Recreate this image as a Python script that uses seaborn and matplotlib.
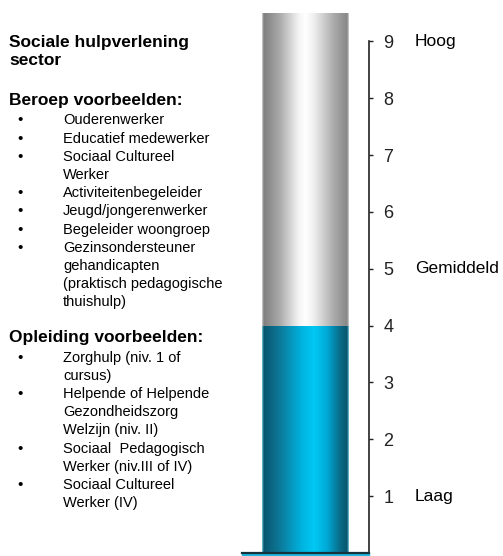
import matplotlib
matplotlib.use("Agg")
import matplotlib.pyplot as plt
from matplotlib.colors import LinearSegmentedColormap
from matplotlib.patches import Rectangle
import matplotlib.transforms as mtransforms
import numpy as np
import pandas as pd
import seaborn as sns

# gegevens
sector = "Sociale hulpverlening\nsector"
score = 4
scale_max = 9.5
levels = [1, 2, 3, 4, 5, 6, 7, 8, 9]
level_names = {9: "Hoog", 5: "Gemiddeld", 1: "Laag"}
beroepen = [
    "Ouderenwerker",
    "Educatief medewerker",
    "Sociaal Cultureel\nWerker",
    "Activiteitenbegeleider",
    "Jeugd/jongerenwerker",
    "Begeleider woongroep",
    "Gezinsondersteuner\ngehandicapten\n(praktisch pedagogische\nthuishulp)",
]
opleidingen = [
    "Zorghulp (niv. 1 of\ncursus)",
    "Helpende of Helpende\nGezondheidszorg\nWelzijn (niv. II)",
    "Sociaal  Pedagogisch\nWerker (niv.III of IV)",
    "Sociaal Cultureel\nWerker (IV)",
]

sns.set_theme(style="white")
plt.rcParams["font.family"] = ["Liberation Sans", "DejaVu Sans"]

W, H = 503, 556
fig = plt.figure(figsize=(W / 100, H / 100), dpi=100)
ax = fig.add_axes([242 / W, 3 / H, 127 / W, (553 - 13) / H])

df = pd.DataFrame({"sector": [sector], "max": [scale_max], "score": [score]})
# achtergrond (grijs) en score (blauw)
sns.barplot(data=df, x="sector", y="max", width=0.68, color="0.8", ax=ax, zorder=1)
sns.barplot(data=df, x="sector", y="score", width=0.68, color="#00b0e0", ax=ax, zorder=2)

grey_stops = [(0, "#cfcfcf"), (0.02, "#7f7f7f"), (0.2, "#a9a9a9"), (0.42, "#f3f3f3"),
              (0.5, "#ffffff"), (0.6, "#eeeeee"), (0.82, "#adadad"), (0.98, "#878787"), (1, "#cfcfcf")]
blue_stops = [(0, "#7cc8dc"), (0.02, "#08566e"), (0.2, "#0d7898"), (0.45, "#00b2de"),
              (0.6, "#00c8f4"), (0.75, "#00a9d6"), (0.9, "#0a6b88"), (0.98, "#07566d"), (1, "#7cc8dc")]


def gradient_fill(patch, stops, z):
    x0, y0 = patch.get_x(), patch.get_y()
    w, h = patch.get_width(), patch.get_height()
    cmap = LinearSegmentedColormap.from_list("g", stops)
    grad = np.linspace(0, 1, 256).reshape(1, -1)
    im = ax.imshow(grad, cmap=cmap, extent=[x0, x0 + w, y0, y0 + h],
                   aspect="auto", zorder=z, interpolation="bilinear")
    im.set_clip_path(patch)
    patch.set_facecolor("none")
    patch.set_edgecolor("none")


gradient_fill(ax.patches[0], grey_stops, 1)
gradient_fill(ax.patches[1], blue_stops, 2)

ax.set_xlim(-0.5, 0.5)
ax.set_ylim(0, scale_max)
ax.set_xlabel("")
ax.set_ylabel("")
ax.set_xticks([])

# as rechts
ax.yaxis.tick_right()
ax.set_yticks(levels)
ax.tick_params(axis="y", right=True, direction="out", length=3, width=1,
               color="#222222", pad=7.5, labelsize=13, labelcolor="#222222")
for side in ["left", "top"]:
    ax.spines[side].set_visible(False)
ax.spines["right"].set_bounds(0, 9)
ax.spines["right"].set_color("#222222")
ax.spines["right"].set_linewidth(1.2)
ax.spines["bottom"].set_color("#14323c")
ax.spines["bottom"].set_linewidth(1.6)
ax.spines["bottom"].set_zorder(5)

# voet van de kolom
ax.add_patch(Rectangle((0, -0.008), 1, 0.008, transform=ax.transAxes,
                       color="#1fb6dc", clip_on=False, zorder=4))

trans = mtransforms.blended_transform_factory(fig.transFigure, ax.transData)
for lv, name in level_names.items():
    ax.text(415 / W, lv, name, transform=trans, fontsize=12.5, va="center",
            ha="left", color="black")

# tekst links
step = 18.2
y = 42


def put(txt, px, py, **kw):
    fig.text(px / W, 1 - py / H, txt, va="center", ha="left", color="black", **kw)


for line in sector.split("\n"):
    put(line, 9, y, fontsize=12.5, fontweight="bold")
    y += step
y += 22
for head, items in [("Beroep voorbeelden:", beroepen), ("Opleiding voorbeelden:", opleidingen)]:
    put(head, 9, y, fontsize=12.5, fontweight="bold")
    y += 20
    for item in items:
        put("\u2022", 17, y, fontsize=11)
        for line in item.split("\n"):
            put(line, 63, y, fontsize=10.5)
            y += step
    y += 17

fig.savefig("out.png", dpi=100)
